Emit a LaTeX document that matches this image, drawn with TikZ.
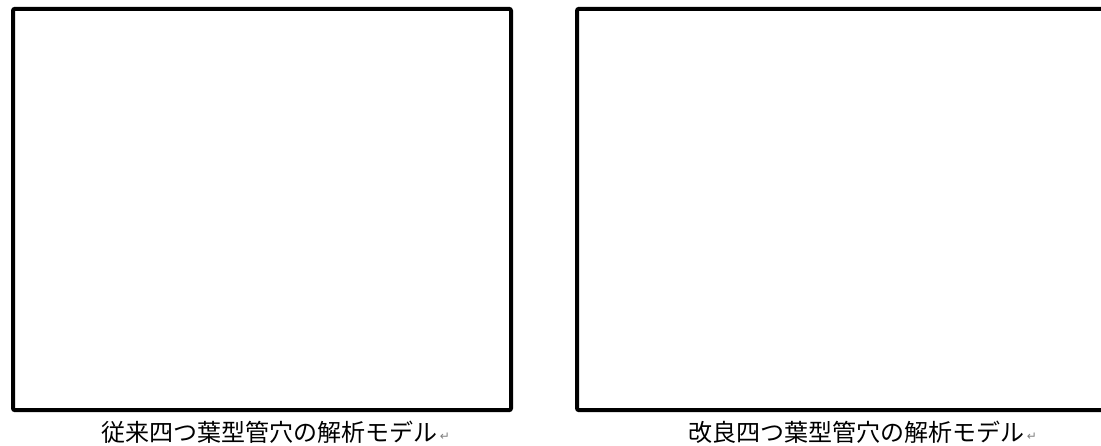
\documentclass[tikz,border=0pt]{standalone}
\usepackage{fontspec}
\newfontfamily\jpfont{Noto Sans CJK JP}
\newfontfamily\symfont{DejaVu Sans}
\usetikzlibrary{positioning}

\begin{document}
\begin{tikzpicture}[x=0.75pt,y=-0.75pt]
\tikzset{panel/.style={draw,line width=3pt,rounded corners=1.5pt,inner sep=0pt}}
\tikzset{caption/.style={anchor=west,inner sep=0pt,font=\jpfont\fontsize{18pt}{20pt}\selectfont}}
\tikzset{retmark/.style={anchor=west,inner sep=0pt,text=gray,font=\symfont\fontsize{9pt}{10pt}\selectfont,yshift=-3.5pt}}
\useasboundingbox (0,0) rectangle (1101,446);
\clip (0,0) rectangle (1101,446);
\node[panel,minimum width=373.5pt,minimum height=301pt] (oldbox) at (262,209.5) {};
\node[panel,minimum width=400pt,minimum height=301pt] (newbox) at (843.7,209.5) {};
\node[caption] (oldcap) at (101,432) {従来四つ葉型管穴の解析モデル};
\node[caption] (newcap) at (688,432) {改良四つ葉型管穴の解析モデル};
\node[retmark,right=1.5pt of oldcap.east] (oldmark) {↵};
\node[retmark,right=1.5pt of newcap.east] (newmark) {↵};
\end{tikzpicture}
\end{document}
